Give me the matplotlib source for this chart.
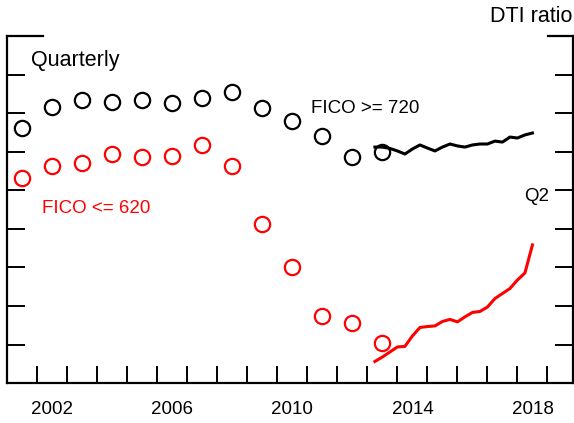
import matplotlib
matplotlib.use("Agg")
import matplotlib.pyplot as plt
from matplotlib.lines import Line2D
from matplotlib.ticker import FixedLocator, NullFormatter, FixedFormatter

plt.rcParams["font.family"] = ["Liberation Sans", "DejaVu Sans"]

# annual observations, plotted at mid-year
annual_years = [2001.5, 2002.5, 2003.5, 2004.5, 2005.5, 2006.5, 2007.5,
                2008.5, 2009.5, 2010.5, 2011.5, 2012.5, 2013.5]
high_fico_annual = [33.21, 34.30, 34.68, 34.58, 34.68, 34.54, 34.76,
                    35.08, 34.28, 33.59, 32.83, 31.74, 32.00]
low_fico_annual = [30.62, 31.27, 31.43, 31.88, 31.71, 31.78, 32.33,
                   31.27, 28.24, 26.01, 23.50, 23.11, 22.07]

# quarterly observations, 2013:Q1 - 2018:Q2, plotted at end of quarter
quarters = [2013.25, 2013.5, 2013.75, 2014.0, 2014.25, 2014.5, 2014.75, 2015.0,
            2015.25, 2015.5, 2015.75, 2016.0, 2016.25, 2016.5, 2016.75, 2017.0,
            2017.25, 2017.5, 2017.75, 2018.0, 2018.25, 2018.5]
high_fico_q = [32.24, 32.24, 32.17, 32.04, 31.88, 32.14, 32.35, 32.19,
               32.04, 32.24, 32.40, 32.30, 32.24, 32.35, 32.40, 32.40,
               32.55, 32.50, 32.76, 32.71, 32.87, 32.97]
low_fico_q = [21.13, 21.36, 21.62, 21.88, 21.91, 22.45, 22.89, 22.94,
              22.97, 23.20, 23.31, 23.18, 23.44, 23.67, 23.72, 23.95,
              24.39, 24.65, 24.91, 25.35, 25.72, 27.17]

year_ticks = list(range(2002, 2020))
label_years = [2002, 2006, 2010, 2014, 2018]
y_ticks = list(range(20, 39, 2))

RED = "#ff0000"

fig = plt.figure(figsize=(5.74, 4.23), dpi=100)
ax = fig.add_axes([0.0127, 0.094, 0.9855, 0.821])

ax.plot(annual_years, high_fico_annual, linestyle="none", marker="o",
        markersize=11, markerfacecolor="none", markeredgecolor="black",
        markeredgewidth=1.6)
ax.plot(annual_years, low_fico_annual, linestyle="none", marker="o",
        markersize=11, markerfacecolor="none", markeredgecolor=RED,
        markeredgewidth=1.6)
ax.plot(quarters, high_fico_q, color="black", linewidth=2.2)
ax.plot(quarters, low_fico_q, color=RED, linewidth=2.2)

ax.set_xlim(2001.0, 2019.85)
ax.set_ylim(20, 38)

ax.spines["top"].set_visible(False)
for side in ("left", "right", "bottom"):
    ax.spines[side].set_linewidth(1.6)

ax.xaxis.set_major_locator(FixedLocator(year_ticks))
ax.xaxis.set_major_formatter(NullFormatter())
ax.xaxis.set_minor_locator(FixedLocator([y + 0.5 for y in label_years]))
ax.xaxis.set_minor_formatter(FixedFormatter([str(y) for y in label_years]))
ax.tick_params(axis="x", which="major", direction="in", length=12.5, width=1.4)
ax.tick_params(axis="x", which="minor", length=0, pad=13, labelsize=13.5)

ax.set_yticks(y_ticks)
ax.yaxis.set_major_formatter(NullFormatter())
ax.tick_params(axis="y", which="major", direction="in", length=13, width=1.4,
               left=True, right=True)

# longer top corner marks
ax.add_line(Line2D([0, 0.063], [1, 1], transform=ax.transAxes, color="black",
                   linewidth=1.6, clip_on=False))
ax.add_line(Line2D([0.955, 1.0], [1, 1], transform=ax.transAxes, color="black",
                   linewidth=1.6, clip_on=False))

ax.text(2001.8, 36.75, "Quarterly", fontsize=15.5, ha="left", va="center")
ax.text(2011.13, 34.25, "FICO >= 720", fontsize=13.5, ha="left", va="center")
ax.text(2002.17, 29.07, "FICO <= 620", fontsize=13.5, ha="left", va="center",
        color=RED)
ax.text(2019.05, 29.67, "Q2", fontsize=13.5, ha="right", va="center")
fig.text(0.9965, 0.9605, "DTI ratio", fontsize=15.5, ha="right", va="center")

fig.savefig("out.png", dpi=100)
